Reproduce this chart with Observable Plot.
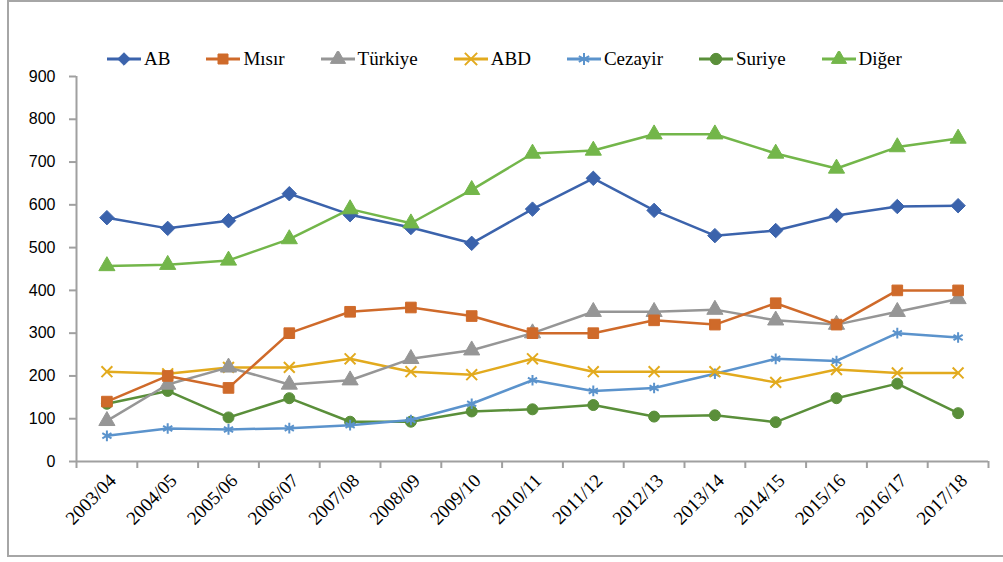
<!DOCTYPE html>
<html><head><meta charset="utf-8">
<script src="https://cdn.jsdelivr.net/npm/d3@7"></script>
<script src="https://cdn.jsdelivr.net/npm/@observablehq/plot@0.6"></script>
<style>
html,body{margin:0;padding:0;background:#fff;}
#wrap{position:relative;width:1003px;height:562px;overflow:hidden;}
#frame{position:absolute;left:7px;top:0px;width:1010px;height:557px;border:2px solid #A6A6A6;box-sizing:border-box;pointer-events:none;}
#legend{position:absolute;left:107px;top:48px;display:flex;gap:36px;font-family:"Liberation Serif","Times New Roman",serif;font-size:19px;color:#000;align-items:center;}
#legend .it{display:flex;align-items:center;gap:3px;}
</style></head>
<body><div id="wrap"><div id="legend"></div><div id="chart"></div><div id="frame"></div></div>
<script>
const categories = ["2003/04","2004/05","2005/06","2006/07","2007/08","2008/09","2009/10","2010/11","2011/12","2012/13","2013/14","2014/15","2015/16","2016/17","2017/18"];
const seriesNames = ["AB","Mısır","Türkiye","ABD","Cezayir","Suriye","Diğer"];
const AB      = [570,545,563,626,577,547,510,590,662,587,528,540,575,596,598];
const Misir   = [140,200,172,300,350,360,340,300,300,330,320,370,320,400,400];
const Turkiye = [95,180,220,180,190,240,260,300,350,350,355,330,320,350,380];
const ABD     = [210,205,220,220,240,210,203,240,210,210,210,185,215,207,207];
const Cezayir = [60,77,75,78,85,97,135,190,165,172,205,240,235,300,290];
const Suriye  = [135,165,103,148,93,93,117,122,132,105,108,92,148,182,113];
const Diger   = [457,460,470,520,590,557,635,720,727,765,765,720,685,735,755];
const yTicks = [0,100,200,300,400,500,600,700,800,900];

const seriesValues = [AB, Misir, Turkiye, ABD, Cezayir, Suriye, Diger];
const colors = ["#3B63AC","#CF6A2A","#969696","#E2AA1E","#5B93CC","#5A8F3A","#73B64A"];
const symbols = ["diamond2","square","triangle","times","asterisk","circle","triangle"];
const filled = [true,true,true,false,false,true,true];
const radius = {diamond2: 6.5, square: 6, triangle: 6, times: 5, asterisk: 5, circle: 5.5};

const data = [];
seriesNames.forEach((s, k) => seriesValues[k].forEach((v, i) => data.push({s, i, v, k})));

const marks = [];
const bounds = d3.range(categories.length + 1).map(i => i - 0.5);
marks.push(Plot.axisY({ticks: yTicks, label: null, tickSize: 7, tickPadding: 14, stroke: "#A0A0A0", strokeWidth: 2, fontSize: 16, fontFamily: "Liberation Sans, Arial, sans-serif", fill: "#000"}));
marks.push(Plot.ruleX([-0.5], {stroke: "#A0A0A0", strokeWidth: 2}));
marks.push(Plot.ruleY([0], {stroke: "#A0A0A0", strokeWidth: 2}));
marks.push(Plot.axisX({ticks: bounds, label: null, tickSize: 7, tickFormat: () => "", stroke: "#A0A0A0", strokeWidth: 2}));
marks.push(Plot.axisX({ticks: d3.range(categories.length), label: null, tickSize: 0, tickPadding: 16, dx: 6, tickRotate: -45, tickFormat: i => categories[i], fontSize: 19, fontFamily: "Liberation Serif, Times New Roman, serif", fill: "#000"}));
for (const k of [5,4,3,2,1,0,6]) {
  const d = data.filter(e => e.k === k);
  marks.push(Plot.line(d, {x: "i", y: "v", stroke: colors[k], strokeWidth: 2.5}));
  marks.push(Plot.dot(d, {x: "i", y: "v", symbol: () => symbols[k], r: radius[symbols[k]],
    fill: filled[k] ? colors[k] : "none", stroke: colors[k], strokeWidth: filled[k] ? 1 : 2}));
}

const chart = Plot.plot({
  width: 1003, height: 562,
  marginTop: 76, marginBottom: 101, marginLeft: 76, marginRight: 15,
  x: {type: "linear", domain: [-0.5, categories.length - 0.5], label: null},
  y: {domain: [0, 900], label: null},
  symbol: {type: "identity"},
  style: {background: "transparent", overflow: "visible"},
  marks
});
document.getElementById("chart").appendChild(chart);

// legend
const leg = document.getElementById("legend");
const symMap = {diamond2: d3.symbolDiamond2, square: d3.symbolSquare, triangle: d3.symbolTriangle, times: d3.symbolTimes, asterisk: d3.symbolAsterisk, circle: d3.symbolCircle};
seriesNames.forEach((s, k) => {
  const it = document.createElement("div"); it.className = "it";
  const path = d3.symbol(symMap[symbols[k]], 100)();
  it.innerHTML = `<svg width="34" height="16" viewBox="0 0 34 16"><line x1="0" x2="34" y1="8" y2="8" stroke="${colors[k]}" stroke-width="3"/><path d="${path}" transform="translate(17,8)" fill="${filled[k] ? colors[k] : 'none'}" stroke="${colors[k]}" stroke-width="${filled[k]?1:2}"/></svg><span>${s}</span>`;
  leg.appendChild(it);
});
</script></body></html>
